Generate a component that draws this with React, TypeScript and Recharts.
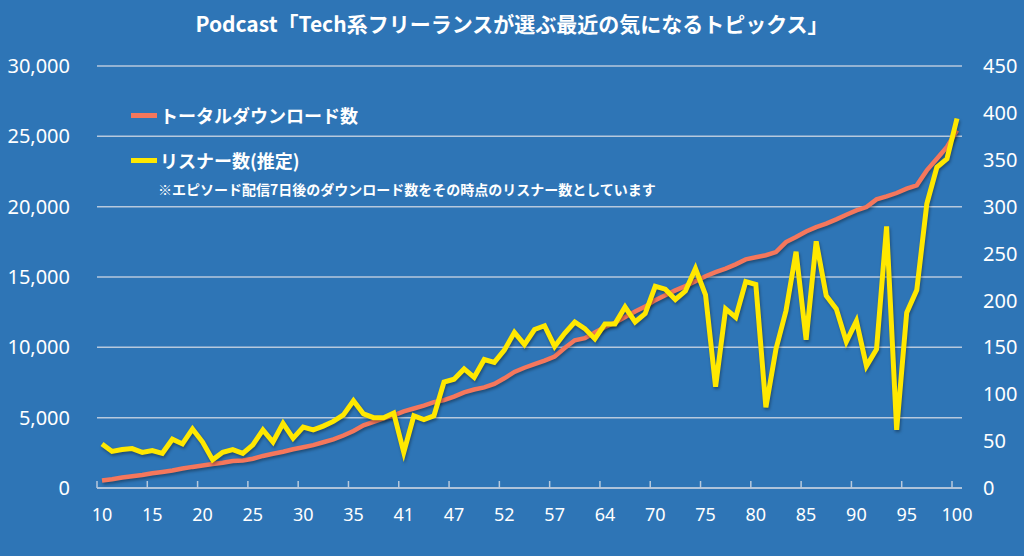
import {
  CartesianGrid,
  ComposedChart,
  Line,
  XAxis,
  YAxis,
} from "recharts";

const episodes = [
  10, 11, 12, 13, 14, 15, 16, 17, 18, 19, 20, 21, 22, 23, 24, 25, 26, 27, 28, 29,
  30, 31, 32, 33, 34, 35, 36, 37, 38, 39, 41, 42, 43, 44, 45, 47, 48, 49, 50, 51,
  52, 53, 54, 55, 56, 57, 58, 59, 61, 62, 64, 65, 66, 67, 69, 70, 71, 72, 73, 74,
  75, 76, 77, 78, 79, 80, 81, 82, 83, 84, 85, 86, 87, 88, 89, 90, 91, 92, 93, 94,
  95, 96, 97, 98, 99, 100,
];

const totalDownloads = [
  530, 620, 740, 830, 930, 1050, 1140, 1240, 1380, 1500, 1600, 1700, 1800, 1920,
  1960, 2080, 2280, 2430, 2580, 2750, 2900, 3050, 3250, 3450, 3730, 4050, 4450,
  4700, 4950, 5160, 5450, 5650, 5850, 6100, 6250, 6500, 6800, 7000, 7150, 7400,
  7800, 8250, 8550, 8800, 9050, 9350, 9950, 10500, 10650, 11050, 11450, 11750,
  12150, 12550, 12900, 13350, 13700, 14050, 14350, 14700, 15050, 15350, 15600,
  15900, 16250, 16400, 16550, 16770, 17480, 17840, 18240, 18550, 18790, 19100,
  19430, 19740, 19970, 20520, 20730, 20970, 21280, 21520, 22580, 23410, 24240,
  25430,
];

const listeners = [
  47, 39, 41, 42, 38, 40, 37, 52, 47, 63, 49, 30, 38, 41, 37, 46, 62, 49, 69, 53,
  65, 62, 66, 71, 78, 93, 79, 75, 75, 80, 38, 77, 73, 77, 113, 116, 127, 118, 137,
  134, 147, 166, 153, 169, 173, 151, 165, 177, 170, 159, 175, 175, 193, 177, 186,
  215, 212, 201, 210, 234, 206, 108, 191, 182, 220, 217, 86, 148, 189, 252, 158,
  263, 205, 191, 156, 178, 130, 148, 279, 62, 187, 211, 303, 342, 351, 394,
];

const leftTicks = [0, 5000, 10000, 15000, 20000, 25000, 30000];
const rightTicks = [0, 50, 100, 150, 200, 250, 300, 350, 400, 450];

const data = episodes.map((ep, i) => ({
  ep,
  total: totalDownloads[i],
  listeners: listeners[i],
}));

const BG = "#2E75B6";
const GRID = "#B7C9DD";
const ORANGE = "#F5775C";
const YELLOW = "#FFE800";
const AXIS_FONT = "'Noto Sans', 'Noto Sans CJK JP', sans-serif";
const JP_FONT = "'Noto Sans CJK JP', 'Noto Sans', sans-serif";

// half a category step, the tick marks sit between categories
const EDGE = 5;

const shadow = { filter: "drop-shadow(1px 2px 1.5px rgba(0,0,0,0.35))" };

export default function App() {
  return (
    <div
      style={{
        position: "fixed",
        left: 0,
        top: 0,
        width: 1024,
        height: 556,
        background: BG,
      }}
    >
      <div
        style={{
          position: "absolute",
          top: 9,
          left: 0,
          width: 1024,
          textAlign: "center",
          color: "#fff",
          fontFamily: JP_FONT,
          fontWeight: 700,
          fontSize: 21,
          lineHeight: "28px",
        }}
      >
        Podcast「Tech系フリーランスが選ぶ最近の気になるトピックス」
      </div>
      <ComposedChart
        width={1024}
        height={556}
        data={data}
        margin={{ top: 66, right: 0, left: 0, bottom: 28 }}
      >
        <CartesianGrid
          vertical={false}
          stroke={GRID}
          strokeWidth={1.5}
          yAxisId="left"
        />
        <XAxis
          dataKey="ep"
          interval={4}
          height={40}
          padding={{ left: EDGE, right: EDGE }}
          tickSize={-7}
          tickMargin={27}
          tickLine={{
            stroke: GRID,
            strokeWidth: 1.5,
            transform: `translate(${-EDGE},0)`,
          }}
          axisLine={{ stroke: GRID, strokeWidth: 1.5 }}
          tick={{ fill: "#fff", fontSize: 18, fontFamily: AXIS_FONT }}
        />
        <YAxis
          yAxisId="left"
          orientation="left"
          width={97}
          domain={[0, 30000]}
          ticks={leftTicks}
          axisLine={false}
          tickLine={false}
          tickMargin={21}
          tickFormatter={(v: number) => v.toLocaleString("en-US")}
          tick={{ fill: "#fff", fontSize: 20, fontFamily: AXIS_FONT }}
        />
        <YAxis
          yAxisId="right"
          orientation="right"
          width={62}
          domain={[0, 450]}
          ticks={rightTicks}
          axisLine={false}
          tickLine={false}
          tickMargin={15}
          tick={{ fill: "#fff", fontSize: 20, fontFamily: AXIS_FONT }}
        />
        <Line
          yAxisId="left"
          dataKey="total"
          stroke={ORANGE}
          strokeWidth={4.5}
          dot={false}
          activeDot={false}
          isAnimationActive={false}
          style={shadow}
        />
        <Line
          yAxisId="right"
          dataKey="listeners"
          type="linear"
          stroke={YELLOW}
          strokeWidth={5}
          dot={false}
          activeDot={false}
          isAnimationActive={false}
          style={shadow}
        />
      </ComposedChart>
      <div
        style={{
          position: "absolute",
          left: 131,
          top: 101,
          color: "#fff",
          fontFamily: JP_FONT,
          fontWeight: 700,
          fontSize: 18,
          lineHeight: "28px",
          display: "flex",
          alignItems: "center",
        }}
      >
        <span
          style={{
            display: "inline-block",
            width: 26,
            height: 5,
            background: ORANGE,
            marginRight: 3,
          }}
        />
        トータルダウンロード数
      </div>
      <div
        style={{
          position: "absolute",
          left: 131,
          top: 146,
          color: "#fff",
          fontFamily: JP_FONT,
          fontWeight: 700,
          fontSize: 18,
          lineHeight: "28px",
          display: "flex",
          alignItems: "center",
        }}
      >
        <span
          style={{
            display: "inline-block",
            width: 26,
            height: 5,
            background: YELLOW,
            marginRight: 3,
          }}
        />
        リスナー数(推定)
      </div>
      <div
        style={{
          position: "absolute",
          left: 158,
          top: 178,
          color: "#fff",
          fontFamily: JP_FONT,
          fontWeight: 700,
          fontSize: 14,
          lineHeight: "22px",
        }}
      >
        ※エピソード配信7日後のダウンロード数をその時点のリスナー数としています
      </div>
    </div>
  );
}
